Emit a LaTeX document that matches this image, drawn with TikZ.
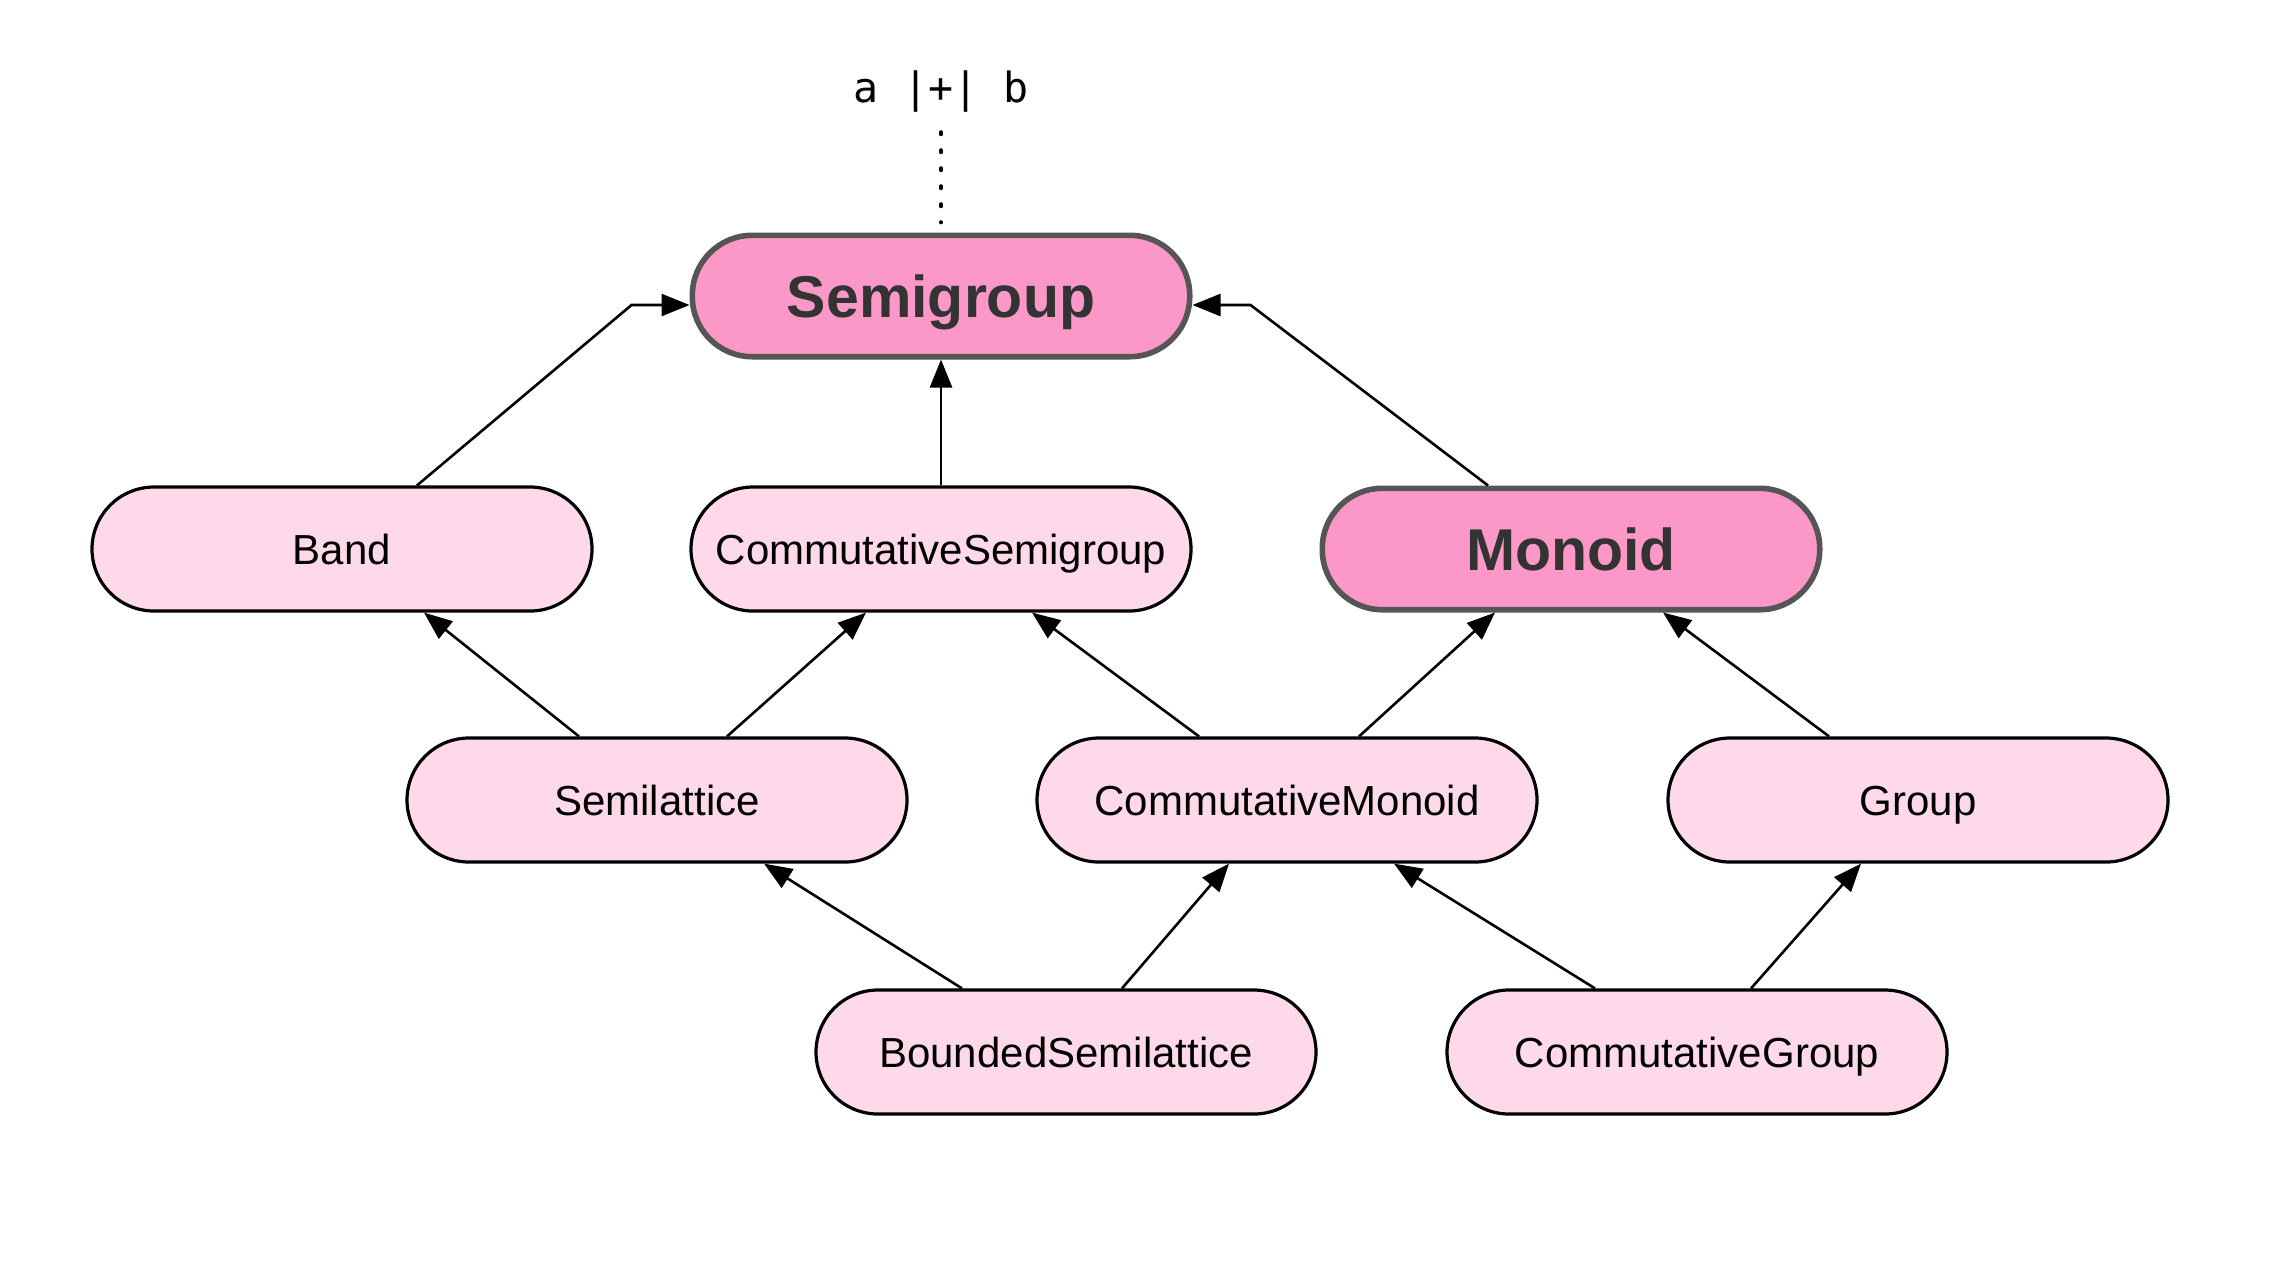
\documentclass[tikz,border=0pt]{standalone}
\usepackage{fontspec}
\setmainfont{Liberation Sans}
\newfontfamily\monof{DejaVu Sans Mono}
\usetikzlibrary{arrows.meta}
\definecolor{hotpink}{HTML}{FC98C7}
\definecolor{lightpink}{HTML}{FDD9E9}
\definecolor{bordergray}{HTML}{555555}
\definecolor{textgray}{HTML}{333333}
\tikzset{
  box/.style={rectangle, rounded corners=31pt, minimum width=250pt, minimum height=62pt,
    inner sep=0pt, fill=lightpink, draw=black, line width=1.6pt, text=black,
    text height=19pt, text depth=4pt,
    font=\fontsize{21}{25}\selectfont},
  keybox/.style={box, rounded corners=30pt, minimum width=248.7pt, minimum height=60.7pt,
    fill=hotpink, draw=bordergray, line width=2.8pt, text=textgray,
    text height=27pt, text depth=5.9pt,
    font=\fontsize{29.5}{34}\selectfont\bfseries},
  edge/.style={draw=black, line width=1.3pt, -{Triangle[length=14pt,width=11pt]}},
  dots/.style={draw=black, line width=1.8pt, line cap=round, dash pattern=on 1.2pt off 7.8pt},
}
\begin{document}
\begin{tikzpicture}[x=0.5pt, y=-0.5pt]
  \useasboundingbox (0,0) rectangle (2294,1266);
  % nodes
  \node[keybox] (sg) at (941,296) {Semigroup};
  \node[box] (band) at (342,549) {Band};
  \node[box] (csemi) at (941,549) {CommutativeSemigroup};
  \node[keybox] (monoid) at (1571,549) {Monoid};
  \node[box] (semil) at (657,800) {Semilattice};
  \node[box] (cmon) at (1287,800) {CommutativeMonoid};
  \node[box] (group) at (1918,800) {Group};
  \node[box] (bsemil) at (1066,1052) {BoundedSemilattice};
  \node[box] (cgroup) at (1697,1052) {CommutativeGroup};
  % operator label
  \node[anchor=base, inner sep=0pt, font=\monof\fontsize{20.8}{25}\selectfont] (lbl) at (941,102) {a |+| b};
  \draw[dots] ([yshift=-15pt]lbl.base) -- ([yshift=5pt]sg.north);
  % edges
  \draw[edge] ([xshift=37.5pt]band.north) -- ([xshift=-29pt,yshift=-4.5pt]sg.west) -- ([yshift=-4.5pt]sg.west);
  \draw[edge] (csemi.north) -- (sg.south);
  \draw[edge] ([xshift=-41.5pt]monoid.north) -- ([xshift=29pt,yshift=-4.5pt]sg.east) -- ([yshift=-4.5pt]sg.east);
  \draw[edge] ([xshift=-39pt]semil.north) -- ([xshift=41pt]band.south);
  \draw[edge] ([xshift=35pt]semil.north) -- ([xshift=-37.5pt]csemi.south);
  \draw[edge] ([xshift=-44pt]cmon.north) -- ([xshift=45.5pt]csemi.south);
  \draw[edge] ([xshift=36pt]cmon.north) -- ([xshift=-38pt]monoid.south);
  \draw[edge] ([xshift=-44.5pt]group.north) -- ([xshift=46pt]monoid.south);
  \draw[edge] ([xshift=-52pt]bsemil.north) -- ([xshift=53.5pt]semil.south);
  \draw[edge] ([xshift=28pt]bsemil.north) -- ([xshift=-29pt]cmon.south);
  \draw[edge] ([xshift=-51pt]cgroup.north) -- ([xshift=53.5pt]cmon.south);
  \draw[edge] ([xshift=27pt]cgroup.north) -- ([xshift=-28.5pt]group.south);
\end{tikzpicture}
\end{document}
